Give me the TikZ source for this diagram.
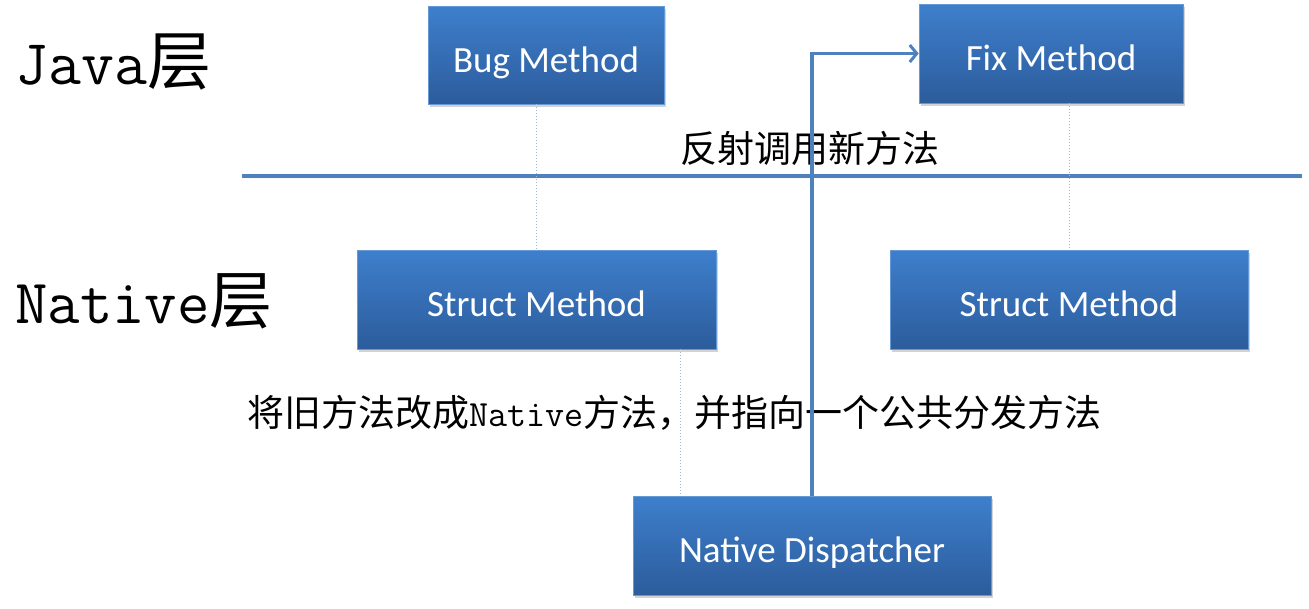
\documentclass[tikz,border=0pt]{standalone}
\usepackage{fontspec}
\newfontfamily\cjk{Noto Sans CJK SC}
\newfontfamily\boxfont{Carlito}
\usetikzlibrary{arrows.meta,shadows,calc}
\definecolor{lineblue}{RGB}{79,129,189}
\definecolor{boxtop}{RGB}{62,127,204}
\definecolor{boxbot}{RGB}{44,92,156}
\definecolor{dotc}{RGB}{160,182,215}
\tikzset{
  mbox/.style={rectangle, top color=boxtop, bottom color=boxbot, draw=boxtop!80!white, line width=0.6pt,
    text=white, font=\boxfont\fontsize{37}{40}\selectfont, inner sep=0pt,
    text height=36pt, text depth=2pt,
    drop shadow={opacity=0.35, shadow xshift=2pt, shadow yshift=-3pt}},
  guide/.style={dotc, line width=1pt, dotted},
  flow/.style={lineblue, line width=3.5pt, -{Straight Barb[length=7pt,width=17pt,line width=3pt]}},
  layer/.style={inner sep=0pt, anchor=base west},
  note/.style={inner sep=0pt, font=\cjk\fontsize{37}{40}\selectfont}
}
\begin{document}
\begin{tikzpicture}[x=1pt,y=-1pt]
\useasboundingbox (0,0) rectangle (1309,608);
% layers
\node[layer, font=\fontsize{64}{70}\selectfont] (java) at (15,84) {\ttfamily Java\cjk 层};
\node[layer, font=\fontsize{63}{70}\selectfont] (native) at (15,323) {\ttfamily Native\cjk 层};
% separator
\coordinate (sepL) at (242,176);
\coordinate (sepR) at (1302,176);
\draw[lineblue, line width=3.5pt, drop shadow={opacity=0.25, shadow xshift=1pt, shadow yshift=-2pt}] (sepL) -- (sepR);
% boxes
\node[mbox, minimum width=236pt, minimum height=98pt] (bug) at (546,55) {Bug Method};
\node[mbox, minimum width=264pt, minimum height=99pt] (fix) at (1051,53.5) {Fix Method};
\node[mbox, minimum width=359pt, minimum height=99pt] (sl) at (536.5,299.5) {Struct Method};
\node[mbox, minimum width=358pt, minimum height=99pt] (sr) at (1069,299.5) {Struct Method};
\node[mbox, minimum width=358pt, minimum height=99pt] (disp) at (812,545.5) {Native Dispatcher};
% guides
\draw[guide] (bug.south -| sl.north) -- (sl.north);
\draw[guide] (fix.south -| sr.north) -- (sr.north);
\coordinate (gx) at (680,0);
\draw[guide] (sl.south -| gx) -- (disp.north -| gx);
% labels
\node[note, anchor=center] (reflect) at (810,148) {反射调用新方法};
\node[note, anchor=west] (change) at (247,413) {将旧方法改成{\ttfamily Native}方法，并指向一个公共分发方法};
% arrow
\draw[flow] (disp.north) |- (fix.west);
\end{tikzpicture}
\end{document}
